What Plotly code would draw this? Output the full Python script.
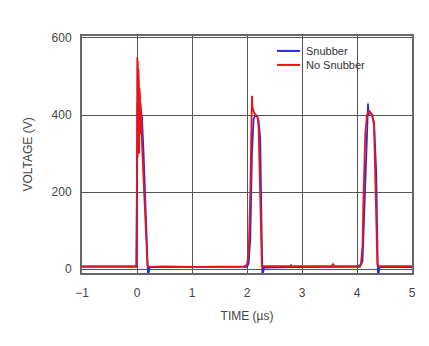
import plotly.graph_objects as go

# Snubber (blue)
snub_t = [-1.0, -0.01, 0.0, 0.01, 0.03, 0.06, 0.09, 0.12, 0.16, 0.19, 0.2, 0.21, 0.23,
          2.0, 2.03, 2.06, 2.09, 2.12, 2.16, 2.19, 2.21, 2.24, 2.26, 2.27, 2.28, 2.29, 2.31,
          2.8, 3.5, 4.05, 4.1, 4.13, 4.16, 4.19, 4.2, 4.21, 4.23, 4.27, 4.31, 4.35, 4.37, 4.38, 4.39, 4.41, 5.0]
snub_v = [6, 6, 200, 430, 420, 405, 395, 300, 150, 20, -15, -10, 5,
          6, 15, 80, 300, 390, 400, 395, 385, 340, 150, 20, -15, -10, 4,
          5, 6, 6, 20, 120, 260, 380, 430, 400, 410, 400, 380, 250, 60, -15, -12, 5, 5]

# No Snubber (red)
nosnub_t = [-1.0, -0.01, 0.0, 0.005, 0.01, 0.015, 0.02, 0.025, 0.03, 0.035, 0.04, 0.045, 0.05,
            0.055, 0.06, 0.065, 0.07, 0.075, 0.08, 0.09, 0.12, 0.15, 0.17, 0.19, 0.22, 0.5, 1.0, 1.5,
            1.95, 2.0, 2.03, 2.06, 2.08, 2.09, 2.1, 2.13, 2.16, 2.19, 2.21, 2.23, 2.25, 2.27, 2.3,
            2.79, 2.8, 2.81, 3.54, 3.555, 3.565, 3.58,
            4.02, 4.07, 4.1, 4.12, 4.15, 4.18, 4.22, 4.25, 4.28, 4.31, 4.33, 4.35, 4.37, 4.4, 5.0]
nosnub_v = [8, 8, 300, 550, 290, 540, 300, 520, 320, 480, 300, 470, 330,
            450, 350, 430, 360, 410, 400, 330, 230, 130, 60, 10, 6, 7, 6, 7,
            7, 12, 40, 200, 380, 450, 420, 405, 400, 395, 370, 250, 60, 8, 8,
            8, 12, 8, 8, 14, 14, 8,
            8, 12, 60, 200, 350, 400, 410, 405, 400, 370, 250, 90, 12, 8, 8]

series_names = ["Snubber", "No Snubber"]
series_colors = ["#2a2ae0", "#e8141c"]

x_ticks = [-1, 0, 1, 2, 3, 4, 5]
x_labels = ["\u22121", "0", "1", "2", "3", "4", "5"]
y_ticks = [0, 200, 400, 600]
y_labels = ["0", "200", "400", "600"]

font = "Liberation Sans, Arial, sans-serif"

fig = go.Figure()
fig.add_trace(go.Scatter(x=snub_t, y=snub_v, mode="lines", name=series_names[0],
                         line=dict(color=series_colors[0], width=1.8)))
fig.add_trace(go.Scatter(x=nosnub_t, y=nosnub_v, mode="lines", name=series_names[1],
                         line=dict(color=series_colors[1], width=1.8)))

# Compact legend drawn in paper coordinates
legend_box = dict(type="rect", xref="paper", yref="paper", x0=0.564, x1=0.88, y0=0.814, y1=0.966,
                  fillcolor="white", line=dict(width=0), layer="between")
shapes = [legend_box]
annotations = []
row_y = [0.937, 0.878]
for name, color, yy in zip(series_names, series_colors, row_y):
    shapes.append(dict(type="line", xref="paper", yref="paper", x0=0.591, x1=0.661, y0=yy, y1=yy,
                       line=dict(color=color, width=2), layer="above"))
    annotations.append(dict(xref="paper", yref="paper", x=0.673, y=yy, text=name, showarrow=False,
                            xanchor="left", yanchor="middle", font=dict(size=11, color="#333")))

fig.update_layout(
    width=429, height=346,
    margin=dict(l=82, r=17, t=36, b=73),
    paper_bgcolor="white", plot_bgcolor="white",
    font=dict(family=font, size=12, color="#444"),
    showlegend=False,
    shapes=shapes, annotations=annotations,
)
fig.update_xaxes(range=[-1, 5], tickvals=x_ticks, ticktext=x_labels,
                 showgrid=True, gridcolor="#555", gridwidth=1,
                 showline=True, linecolor="#666", linewidth=2, mirror=True,
                 zeroline=False, ticks="", ticklabelstandoff=8,
                 tickfont=dict(size=12, color="#444"),
                 title=dict(text="TIME (\u00b5s)", font=dict(size=12, color="#444"), standoff=12))
fig.update_yaxes(range=[-10, 605], tickvals=y_ticks, ticktext=y_labels,
                 showgrid=True, gridcolor="#555", gridwidth=1,
                 showline=True, linecolor="#666", linewidth=2, mirror=True,
                 zeroline=False, ticks="", ticklabelstandoff=6,
                 tickfont=dict(size=12, color="#444"),
                 title=dict(text="VOLTAGE (V)", font=dict(size=12, color="#444"), standoff=16))

fig.write_html("out.html")
